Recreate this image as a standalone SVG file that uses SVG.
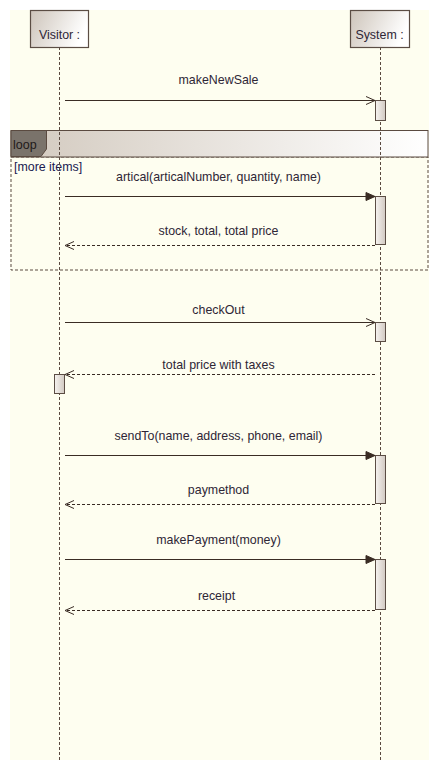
<svg xmlns="http://www.w3.org/2000/svg" width="439" height="770" viewBox="0 0 439 770">
<defs>
<linearGradient id="gActor" x1="0" y1="0" x2="1" y2="0.3">
<stop offset="0" stop-color="#cdc4ba"/>
<stop offset="1" stop-color="#ffffff"/>
</linearGradient>
<linearGradient id="gHead" x1="0" y1="0" x2="1" y2="0">
<stop offset="0" stop-color="#d2c9be"/>
<stop offset="1" stop-color="#ffffff"/>
</linearGradient>
<linearGradient id="gAct" x1="0" y1="0" x2="1" y2="0">
<stop offset="0" stop-color="#f6f3f0"/>
<stop offset="1" stop-color="#d2cac2"/>
</linearGradient>
<marker id="open" markerWidth="12" markerHeight="10" refX="10" refY="5" orient="auto" markerUnits="userSpaceOnUse">
<path d="M1,1 L10,5 L1,9" fill="none" stroke="#3a2c24" stroke-width="1"/>
</marker>
<marker id="filled" markerWidth="12" markerHeight="10" refX="10" refY="5" orient="auto" markerUnits="userSpaceOnUse">
<path d="M1,1 L10,5 L1,9 Z" fill="#3a2c24" stroke="#3a2c24" stroke-width="1"/>
</marker>
</defs>
<style>
text{font-family:"Liberation Sans",Arial,sans-serif;font-size:12.4px;fill:#2e2636}
.lbl{text-anchor:middle}
.life{stroke:#5a4a40;stroke-width:1;stroke-dasharray:3,2;fill:none}
.actor{fill:url(#gActor);stroke:#5b4d44;stroke-width:1.2}
.act{fill:url(#gAct);stroke:#5b4d44;stroke-width:1}
.call{stroke:#3a2c24;stroke-width:1;fill:none;marker-end:url(#filled)}
.async{stroke:#3a2c24;stroke-width:1;fill:none;marker-end:url(#open)}
.ret{stroke:#3a2c24;stroke-width:1;fill:none;stroke-dasharray:3,2;marker-end:url(#open)}
</style>
<rect x="10" y="10" width="419" height="750" fill="#fefef0"/>

<g id="loop">
<rect x="11" y="157" width="417" height="113" fill="none" stroke="#5a4a40" stroke-width="1" stroke-dasharray="3,2"/>
<rect x="11" y="130.5" width="417" height="26.5" fill="url(#gHead)" stroke="#5a4a40" stroke-width="1"/>
<path d="M11,130.5 L46.5,130.5 L46.5,149 L41,156.5 L11,156.5 Z" fill="#7a736b" stroke="#5a4a40" stroke-width="1"/>
<text x="13" y="148.5" style="fill:#1e1a1a;font-size:12.5px">loop</text>
<text x="14" y="171" style="fill:#1a1a50">[more items]</text>
</g>

<g id="visitor">
<line class="life" x1="59.5" y1="47" x2="59.5" y2="760"/>
<rect class="actor" x="30.5" y="10.5" width="58" height="37"/>
<text class="lbl" x="59.5" y="38.5">Visitor :</text>
</g>
<g id="system">
<line class="life" x1="380.5" y1="47" x2="380.5" y2="760"/>
<rect class="actor" x="350.5" y="10.5" width="59" height="37"/>
<text class="lbl" x="379.5" y="38.5">System :</text>
</g>

<g id="activations">
<rect class="act" x="375.5" y="100.5" width="10" height="20"/>
<rect class="act" x="375.5" y="196.5" width="10" height="48"/>
<rect class="act" x="375.5" y="322.5" width="10" height="19"/>
<rect class="act" x="54.5" y="374.5" width="10" height="19"/>
<rect class="act" x="375.5" y="455.5" width="10" height="48"/>
<rect class="act" x="375.5" y="559.5" width="10" height="50"/>
</g>

<g id="connectors">
<line class="async" x1="65" y1="100.5" x2="375" y2="100.5"/>
<line class="call" x1="65" y1="196.5" x2="375" y2="196.5"/>
<line class="ret" x1="375" y1="245.5" x2="65" y2="245.5"/>
<line class="async" x1="65" y1="322.5" x2="375" y2="322.5"/>
<line class="ret" x1="375" y1="374.5" x2="65" y2="374.5"/>
<line class="call" x1="65" y1="455.5" x2="375" y2="455.5"/>
<line class="ret" x1="375" y1="504.5" x2="65" y2="504.5"/>
<line class="call" x1="65" y1="559.5" x2="375" y2="559.5"/>
<line class="ret" x1="375" y1="610.5" x2="65" y2="610.5"/>
</g>

<g id="labels">
<text class="lbl" x="218.5" y="84">makeNewSale</text>
<text class="lbl" x="218.5" y="181">artical(articalNumber, quantity, name)</text>
<text class="lbl" x="218.5" y="235">stock, total, total price</text>
<text class="lbl" x="218.5" y="314">checkOut</text>
<text class="lbl" x="218.5" y="369">total price with taxes</text>
<text class="lbl" x="218.5" y="440">sendTo(name, address, phone, email)</text>
<text class="lbl" x="218.5" y="494">paymethod</text>
<text class="lbl" x="218.5" y="544">makePayment(money)</text>
<text class="lbl" x="216.5" y="600">receipt</text>
</g>
</svg>
